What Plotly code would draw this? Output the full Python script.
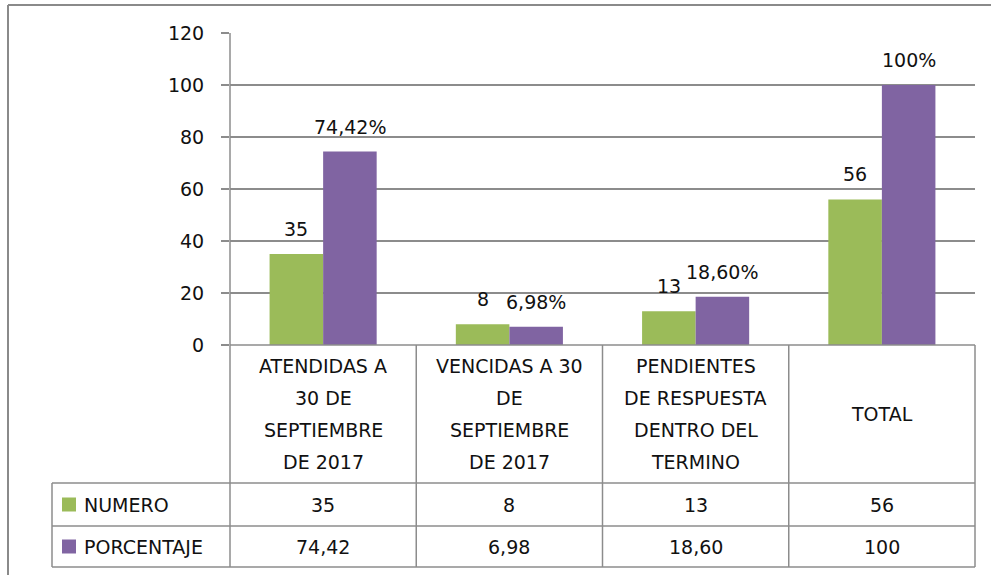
import plotly.graph_objects as go

# ---------------- data ----------------
categories = ["ATENDIDAS A 30 DE SEPTIEMBRE DE 2017",
              "VENCIDAS A 30 DE SEPTIEMBRE DE 2017",
              "PENDIENTES DE RESPUESTA DENTRO DEL TERMINO",
              "TOTAL"]
category_lines = [["ATENDIDAS A", "30 DE", "SEPTIEMBRE", "DE 2017"],
                  ["VENCIDAS A 30", "DE", "SEPTIEMBRE", "DE 2017"],
                  ["PENDIENTES", "DE RESPUESTA", "DENTRO DEL", "TERMINO"],
                  ["TOTAL"]]
series_names = ["NUMERO", "PORCENTAJE"]
numero = [35, 8, 13, 56]
porcentaje = [74.42, 6.98, 18.60, 100]
numero_labels = ["35", "8", "13", "56"]
porcentaje_labels = ["74,42%", "6,98%", "18,60%", "100%"]
numero_table = ["35", "8", "13", "56"]
porcentaje_table = ["74,42", "6,98", "18,60", "100"]
y_ticks = [0, 20, 40, 60, 80, 100, 120]

# ---------------- style ----------------
W, H = 991, 575
PX0, PX1, PY0, PY1 = 230, 975, 33, 345   # plot area in pixels
GREEN = "#9BBB59"
PURPLE = "#8064A2"
GRID = "#8c8c8c"
FONT = "DejaVu Sans"
FS = 19
TXT = "#111111"

def px(x):
    return (x - PX0) / (PX1 - PX0)

def py(y):
    return (PY1 - y) / (PY1 - PY0)

fig = go.Figure()
fig.add_trace(go.Bar(x=categories, y=numero, name=series_names[0],
                     marker=dict(color=GREEN, line=dict(width=0))))
fig.add_trace(go.Bar(x=categories, y=porcentaje, name=series_names[1],
                     marker=dict(color=PURPLE, line=dict(width=0))))

bargap = 0.425
n = len(categories)
cat_w = (PX1 - PX0) / n
bar_w = cat_w * (1 - bargap) / 2

annotations = []
# data labels
for i in range(n):
    for vals, labs, sgn in ((numero, numero_labels, -1), (porcentaje, porcentaje_labels, 1)):
        annotations.append(dict(x=i, y=vals[i], xref="x", yref="y", text=labs[i],
                                showarrow=False, xshift=sgn * bar_w / 2, yshift=25,
                                xanchor="center", yanchor="middle",
                                font=dict(family=FONT, size=FS, color=TXT)))

# table geometry (pixels)
HEAD_BOT = 483
ROW1_BOT = 526
ROW2_BOT = 567
LEG_X = 52
col_edges = [PX0 + cat_w * k for k in range(n + 1)]

# header labels
line_sp = 32
head_mid = (PY1 + HEAD_BOT) / 2
for i, lines in enumerate(category_lines):
    cx = (col_edges[i] + col_edges[i + 1]) / 2
    m = len(lines)
    for j, t in enumerate(lines):
        yy = head_mid + (j - (m - 1) / 2) * line_sp
        annotations.append(dict(x=px(cx), y=py(yy), xref="paper", yref="paper", text=t,
                                showarrow=False, xanchor="center", yanchor="middle",
                                font=dict(family=FONT, size=FS, color=TXT)))

# value rows
rows = [(numero_table, (HEAD_BOT + ROW1_BOT) / 2, GREEN, series_names[0]),
        (porcentaje_table, (ROW1_BOT + ROW2_BOT) / 2, PURPLE, series_names[1])]
shapes = []
for vals, ymid, col, name in rows:
    for i in range(n):
        cx = (col_edges[i] + col_edges[i + 1]) / 2
        annotations.append(dict(x=px(cx), y=py(ymid), xref="paper", yref="paper", text=vals[i],
                                showarrow=False, xanchor="center", yanchor="middle",
                                font=dict(family=FONT, size=FS, color=TXT)))
    # legend key
    shapes.append(dict(type="rect", xref="paper", yref="paper",
                       x0=px(62), x1=px(76), y0=py(ymid - 7), y1=py(ymid + 7),
                       fillcolor=col, line=dict(width=0)))
    annotations.append(dict(x=px(82), y=py(ymid), xref="paper", yref="paper", text=name,
                            showarrow=False, xanchor="left", yanchor="middle",
                            font=dict(family=FONT, size=FS, color=TXT)))

LINE = dict(color=GRID, width=1.5)
def seg(x0, y0, x1, y1, line=LINE):
    shapes.append(dict(type="line", xref="paper", yref="paper",
                       x0=px(x0), y0=py(y0), x1=px(x1), y1=py(y1), line=line))

# y axis line extended down through table
seg(PX0, PY0, PX0, ROW2_BOT)
# x axis line / header top
seg(PX0, PY1, PX1, PY1)
# column dividers
for k in range(1, n + 1):
    seg(col_edges[k], PY1, col_edges[k], ROW2_BOT)
# horizontal row lines
for yy in (HEAD_BOT, ROW1_BOT, ROW2_BOT):
    seg(LEG_X, yy, PX1, yy)
# legend column left edge
seg(LEG_X, HEAD_BOT, LEG_X, ROW2_BOT)
# outer chart border
BORDER = dict(color="#8a8a8a", width=2)
seg(8, 5, W + 5, 5, BORDER)
seg(8, 5, 8, H + 5, BORDER)

fig.update_layout(
    width=W, height=H,
    margin=dict(l=PX0, r=W - PX1, t=PY0, b=H - PY1, pad=0),
    paper_bgcolor="white", plot_bgcolor="white",
    barmode="group", bargap=bargap, bargroupgap=0,
    showlegend=False,
    annotations=annotations, shapes=shapes,
    font=dict(family=FONT, size=FS, color=TXT),
)
fig.update_xaxes(showticklabels=False, showgrid=False, showline=False, zeroline=False)
fig.update_yaxes(range=[0, 120], tickvals=y_ticks, showgrid=True, gridcolor=GRID, gridwidth=1.5,
                 zeroline=False, showline=False, ticks="outside", ticklen=8,
                 tickcolor=GRID, tickwidth=1.5, ticklabelstandoff=13,
                 tickfont=dict(family=FONT, size=FS, color=TXT))

fig.write_html("out.html", config={"displayModeBar": False},
               post_script="document.body.style.margin='0';document.body.style.overflow='hidden';")
